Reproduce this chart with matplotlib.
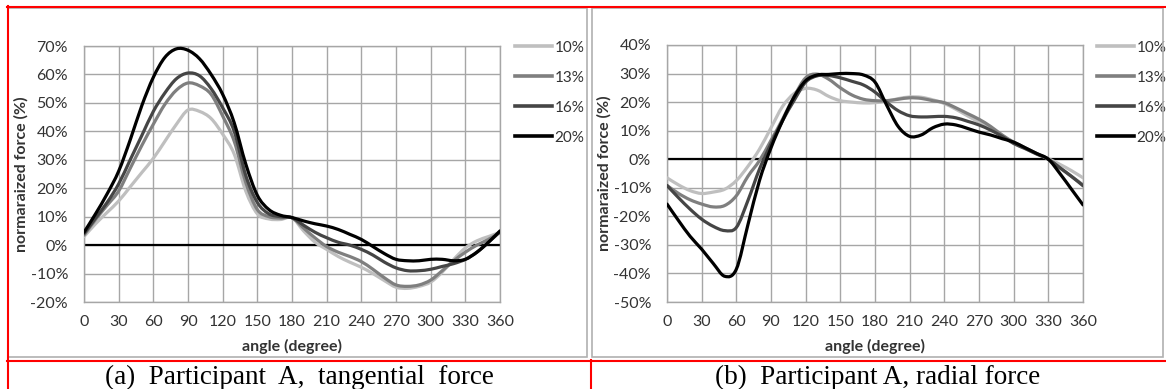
import matplotlib
matplotlib.use("Agg")
import matplotlib.pyplot as plt
from matplotlib.lines import Line2D
from matplotlib.patches import Rectangle, PathPatch
from matplotlib.path import Path

# ---- data ----
angles = [0, 10, 20, 30, 40, 50, 60, 70, 80, 90, 100, 110, 120, 130, 140, 150, 160, 170, 180,
          190, 200, 210, 220, 230, 240, 250, 260, 270, 280, 290, 300, 310, 320, 330, 340, 350, 360]
series_names = ["10%", "13%", "16%", "20%"]
series_colors = ["#bfbfbf", "#7f7f7f", "#454545", "#000000"]

tang_10 = [3, 7.5, 11.5, 15.5, 20.5, 25.5, 30.5, 36.5, 42.5, 47.5, 47, 44.5, 39, 32, 19, 11, 9.2, 9, 9.6,
           5, 1, -1.5, -4, -6, -7.8, -10, -12.5, -14.8, -15.2, -14.5, -13, -9.5, -5, -1, 1.5, 3, 4.5]
tang_13 = [3.5, 9, 14, 19, 27, 35, 42.5, 49.5, 54.5, 57, 56, 53, 45.4, 36.5, 22, 12.5, 10, 9.5, 9.6,
           6, 2.5, -0.5, -2.5, -4, -5.8, -8.5, -11.5, -14, -14.5, -14, -12.3, -9, -5.5, -2.5, 0, 2, 4.5]
tang_16 = [4, 9.5, 15, 21.5, 30, 38.5, 47, 53.5, 58.5, 60.5, 59.5, 55, 48.3, 40, 24.5, 15, 11, 10, 9.6,
           7, 4.5, 2.6, 1, 0, -1.5, -3.5, -6, -8, -9, -9, -8.5, -7.5, -6.5, -5, -2.5, 1, 4.7]
tang_20 = [4.5, 11, 18, 26, 37, 49, 59, 66, 69, 68.5, 65.5, 60, 53, 43, 28.5, 17.5, 12.5, 10.5, 9.7,
           8.5, 7.5, 6.7, 5.5, 3.8, 2, -0.5, -3, -5, -5.5, -5.5, -5, -5, -5.5, -5, -2.5, 1, 5]

rad_10 = [-6.5, -9, -11, -12, -11.5, -10.5, -7.5, -2.5, 3.5, 11, 18.5, 23, 24.8, 24.2, 22, 20.5, 20, 19.7, 19.8,
          20.3, 21.2, 21.8, 21.7, 20.8, 19.5, 17.5, 15.2, 13, 10.8, 8.2, 5.7, 3.8, 1.8, 0.2, -1.8, -4, -6.5]
rad_13 = [-9.2, -12, -14.2, -15.7, -16.7, -16.2, -12.8, -6, -0.5, 6.6, 14, 22, 28.5, 29.8, 28, 25, 22.5, 21, 20.5,
          20.5, 21, 21.5, 21.3, 20.5, 19.8, 18, 16, 14, 11.5, 8.5, 6, 4, 2, 0, -3, -6, -9]
rad_16 = [-9.2, -13.5, -17.5, -21, -23.5, -25, -23.9, -14.5, -3.5, 5.4, 13.5, 20.6, 27, 29.2, 29.3, 28.5, 27.3, 26, 23.5,
          20, 17, 15.2, 14.8, 14.9, 15, 14.5, 13.3, 12, 10.2, 8, 5.5, 3.7, 1.8, 0, -3, -6, -9.3]
rad_20 = [-15.7, -21.5, -27, -31.5, -36.5, -41, -38.5, -23, -7.5, 4, 13.5, 21.8, 27.5, 29.5, 29.7, 30, 30, 29.5, 27,
          19, 11.5, 8, 8.5, 11, 12.3, 12, 10.8, 9.5, 8.5, 7.2, 6, 4, 2, 0, -5, -10.5, -16]

x_ticks = [0, 30, 60, 90, 120, 150, 180, 210, 240, 270, 300, 330, 360]
tang_yticks = [-20, -10, 0, 10, 20, 30, 40, 50, 60, 70]
rad_yticks = [-50, -40, -30, -20, -10, 0, 10, 20, 30, 40]

captions = ["(a)  Participant  A,  tangential  force", "(b)  Participant A, radial force"]

W, H = 1166, 389
TXT = "#333333"
plt.rcParams['font.family'] = ['Lato', 'DejaVu Sans']

fig = plt.figure(figsize=(W / 100, H / 100), dpi=100)
fig.patch.set_facecolor("white")


def fx(px):
    return px / W


def fy(py):
    return 1 - py / H


def hline(x0, x1, y, color, lw):
    fig.add_artist(Line2D([fx(x0), fx(x1)], [fy(y), fy(y)], color=color, lw=lw, transform=fig.transFigure))


def vline(x, y0, y1, color, lw):
    fig.add_artist(Line2D([fx(x), fx(x)], [fy(y0), fy(y1)], color=color, lw=lw, transform=fig.transFigure))


def smooth_path(xs, ys):
    # Excel style smoothed line: cubic bezier through every point
    n = len(xs)
    verts = [(xs[0], ys[0])]
    codes = [Path.MOVETO]
    for i in range(n - 1):
        x0, y0 = xs[max(i - 1, 0)], ys[max(i - 1, 0)]
        x1, y1 = xs[i], ys[i]
        x2, y2 = xs[i + 1], ys[i + 1]
        x3, y3 = xs[min(i + 2, n - 1)], ys[min(i + 2, n - 1)]
        verts += [(x1 + (x2 - x0) / 6, y1 + (y2 - y0) / 6),
                  (x2 - (x3 - x1) / 6, y2 - (y3 - y1) / 6),
                  (x2, y2)]
        codes += [Path.CURVE4] * 3
    return Path(verts, codes)


# grey chart frames
for (x0, x1) in [(8, 587), (592, 1163)]:
    fig.add_artist(Rectangle((fx(x0), fy(357)), fx(x1) - fx(x0), fy(8) - fy(357),
                             transform=fig.transFigure, fill=False, edgecolor="#b0b0b0", lw=1.2))

# red table borders
hline(7, 1166, 6.5, "red", 1.5)
hline(7, 1166, 360.5, "red", 1.5)
vline(7.5, 6, 389, "red", 1.5)
vline(591, 360, 389, "red", 1.5)


def make_panel(ax_box, data, yticks, leg_x):
    l, t, r, b = ax_box
    ax = fig.add_axes([fx(l), fy(b), fx(r) - fx(l), fy(t) - fy(b)])
    ax.set_xlim(0, 360)
    ax.set_ylim(yticks[0], yticks[-1])
    ax.set_xticks(x_ticks)
    ax.set_xticklabels([str(v) for v in x_ticks])
    ax.set_yticks(yticks)
    ax.set_yticklabels([f"{v}%" for v in yticks])
    ax.grid(True, color="#a6a6a6", lw=1.0)
    ax.set_axisbelow(True)
    for s in ax.spines.values():
        s.set_color("#a6a6a6")
        s.set_linewidth(1.0)
    ax.tick_params(length=0, labelsize=11.5, colors=TXT)
    ax.tick_params(axis='y', pad=11.5)
    ax.tick_params(axis='x', pad=9.5)
    ax.axhline(0, color="black", lw=1.6, zorder=2)
    handles = []
    for vals, name, col in zip(data, series_names, series_colors):
        ax.add_patch(PathPatch(smooth_path(angles, vals), fill=False, edgecolor=col, lw=2.3,
                               zorder=3, joinstyle="round", capstyle="round"))
        handles.append(Line2D([], [], color=col, lw=2.6, label=name))
    ax.set_xlabel("angle (degree)", fontsize=11.5, fontweight="bold", labelpad=7, color=TXT)
    ax.set_ylabel("normaraized force (%)", fontsize=11.5, fontweight="bold", labelpad=1.5, color=TXT)
    ax.legend(handles=handles, loc="upper left", bbox_to_anchor=(fx(leg_x), fy(40.5)),
              bbox_transform=fig.transFigure, frameon=False, fontsize=11,
              handlelength=2.4, handletextpad=0.2, labelspacing=1.05, borderaxespad=0,
              borderpad=0, labelcolor=TXT)
    return ax


make_panel((84, 46, 500, 302), [tang_10, tang_13, tang_16, tang_20], tang_yticks, 515)
make_panel((667, 45, 1083, 302), [rad_10, rad_13, rad_16, rad_20], rad_yticks, 1097)

for cx, txt in zip([299, 878], captions):
    fig.text(fx(cx), fy(384.5), txt, ha="center", va="baseline", fontsize=19.5,
             family="Liberation Serif", color="black")

fig.savefig("out.png", dpi=100, facecolor="white")
